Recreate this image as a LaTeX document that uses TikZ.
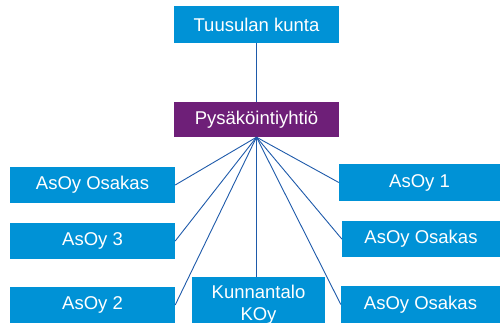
\documentclass[tikz,border=0pt]{standalone}
\usepackage{fontspec}
\setmainfont{Liberation Sans}
\definecolor{boxblue}{RGB}{0,146,214}
\definecolor{boxpurple}{RGB}{110,31,120}
\definecolor{linkblue}{RGB}{30,90,170}
\begin{document}
\begin{tikzpicture}[x=1pt,y=-1pt,
  bluebox/.style={fill=boxblue,text=white,inner sep=0pt,font=\fontsize{18.5}{21.5}\selectfont,align=center},
  purplebox/.style={bluebox,fill=boxpurple},
  link/.style={draw=linkblue,line width=0.9pt}]
\useasboundingbox (0,0) rectangle (500,323);
\node[bluebox,minimum width=165pt,minimum height=37pt] (tk) at (256.5,24.5) {Tuusulan kunta};
\node[purplebox,minimum width=165pt,minimum height=35pt] (py) at (256.5,119.5) {Pysäköintiyhtiö};
\node[bluebox,minimum width=165pt,minimum height=36pt] (l1) at (92.5,185) {AsOy Osakas};
\node[bluebox,minimum width=165pt,minimum height=36pt] (l2) at (92.5,241) {AsOy 3};
\node[bluebox,minimum width=165pt,minimum height=36pt] (l3) at (92.5,305) {AsOy 2};
\node[bluebox,minimum width=133pt,minimum height=46pt] (kk) at (258.5,300) {\raisebox{-5pt}[\height][\depth]{\begin{tabular}{@{}c@{}}Kunnantalo\\KOy\end{tabular}}};
\node[bluebox,minimum width=161pt,minimum height=37pt] (r1) at (419.5,182.5) {AsOy 1};
\node[bluebox,minimum width=158pt,minimum height=36pt] (r2) at (421,239) {AsOy Osakas};
\node[bluebox,minimum width=159pt,minimum height=37pt] (r3) at (420.5,304.5) {AsOy Osakas};
\draw[link] (tk.south) -- (py.north);
\draw[link] (py.south) -- (l1.east);
\draw[link] (py.south) -- (l2.east);
\draw[link] (py.south) -- (l3.east);
\draw[link] (py.south) -- (py.south |- kk.north);
\draw[link] (py.south) -- (r1.west);
\draw[link] (py.south) -- (r2.west);
\draw[link] (py.south) -- (r3.west);
\end{tikzpicture}
\end{document}
